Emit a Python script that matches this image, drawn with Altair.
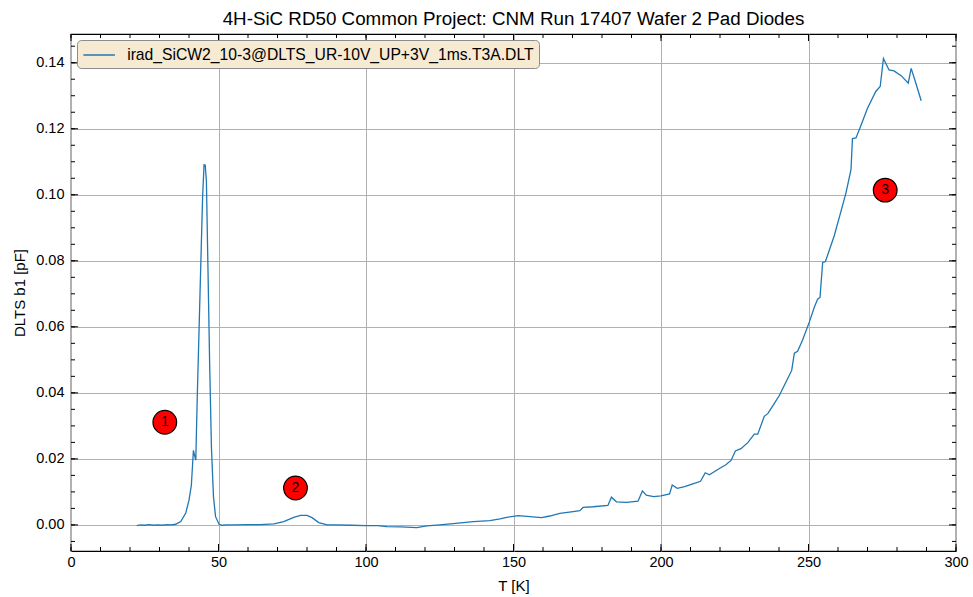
import altair as alt
import pandas as pd

# ---- data ----
temps = [22.3, 23.5, 25, 26.5, 28, 29.5, 31, 32.5, 34, 35.5, 37.2, 38.9, 40.0, 40.8, 41.5, 41.9, 42.3,
         42.8, 43.4, 44.0, 44.6, 45.1, 45.5, 45.9, 46.4, 47.0, 47.6, 48.3, 49.0, 50.2, 51.3, 53, 56, 60,
         64, 68.8, 72.1, 75.5, 77.8, 80, 81.7, 84, 86.8, 90, 95, 100, 104, 107.1, 112, 117.2, 120.6, 125,
         129.6, 133, 136.4, 142, 145.4, 147.7, 151.6, 155.6, 159.5, 162.3, 165.7, 170.2, 172.5, 173.6, 177,
         182, 183.2, 184.9, 188.3, 192.2, 193.7, 195.0, 197.5, 200, 202.9, 203.8, 205.5, 208, 210.8, 213.4,
         215, 216.4, 219.8, 222, 223.8, 225.2, 227.1, 229.5, 231.6, 232.8, 235, 236.2, 238, 240.1, 242.2,
         244.3, 245.2, 246.3, 248, 250.3, 252, 253.1, 253.9, 254.8, 255.7, 258.7, 260.7, 262.7, 264.4,
         264.9, 266.1, 268, 270, 272.8, 274.3, 275.4, 277.3, 279, 281.5, 283.8, 284.8, 286.5, 288.2]
dlts_b1 = [-0.0002, 0.0, -0.0001, 0.0001, -0.0001, 0.0, -0.0001, 0.0001, 0.0, 0.0002, 0.001, 0.0036, 0.0075,
           0.012, 0.0226, 0.021, 0.0196, 0.0387, 0.0588, 0.079, 0.099, 0.1091, 0.109, 0.104, 0.079, 0.0489,
           0.0236, 0.0085, 0.0025, 0.0002, -0.0001, 0.0, 0.0, 0.0001, 0.0001, 0.0003, 0.001, 0.0023, 0.0029,
           0.0029, 0.0022, 0.0007, 0.0, 0.0, -0.0001, -0.0002, -0.0002, -0.0005, -0.0006, -0.0008, -0.0003,
           0.0, 0.0004, 0.0007, 0.001, 0.0013, 0.0018, 0.0023, 0.0028, 0.0025, 0.0022, 0.0027, 0.0035, 0.004,
           0.0043, 0.0053, 0.0055, 0.0059, 0.0084, 0.007, 0.0068, 0.0072, 0.0103, 0.009, 0.0086, 0.0088,
           0.0094, 0.0121, 0.0111, 0.0116, 0.0124, 0.0132, 0.0158, 0.0152, 0.0171, 0.0182, 0.0196, 0.0224,
           0.0231, 0.025, 0.0275, 0.0275, 0.0329, 0.0337, 0.0362, 0.0392, 0.043, 0.0468, 0.052, 0.0526,
           0.056, 0.0615, 0.066, 0.0684, 0.0689, 0.0795, 0.0797, 0.0875, 0.094, 0.1006, 0.1076, 0.117,
           0.1172, 0.1215, 0.1262, 0.1313, 0.1328, 0.1413, 0.1378, 0.1375, 0.136, 0.1338, 0.1383, 0.1335,
           0.1285]
series_name = "irad_SiCW2_10-3@DLTS_UR-10V_UP+3V_1ms.T3A.DLT"

marker_T = [31.8, 76.1, 276.0]
marker_v = [0.0311, 0.0112, 0.1014]
marker_labels = ["1", "2", "3"]

x_major = [0, 50, 100, 150, 200, 250, 300]
x_minor = [v for v in range(0, 301, 10)]
y_major = [0.0, 0.02, 0.04, 0.06, 0.08, 0.10, 0.12, 0.14]
y_minor = [round(-0.005 + 0.005 * i, 3) for i in range(31)]

title_text = "4H-SiC RD50 Common Project: CNM Run 17407 Wafer 2 Pad Diodes"

# ---- layout ----
W, H = 885, 517
FONT = "Liberation Sans"
XDOM = [0, 300]
YDOM = [-0.0079, 0.1487]

curve = pd.DataFrame({"T": temps, "v": dlts_b1, "series": series_name})
marks = pd.DataFrame({"T": marker_T, "v": marker_v, "lab": marker_labels})
xmaj = pd.DataFrame({"t": x_major})
xmin = pd.DataFrame({"t": x_minor})
ymaj = pd.DataFrame({"t": y_major})
ymin = pd.DataFrame({"t": y_minor})

xs = alt.Scale(domain=XDOM, nice=False, zero=False)
ys = alt.Scale(domain=YDOM, nice=False, zero=False)

line = alt.Chart(curve).mark_line(strokeWidth=1.3, clip=True).encode(
    x=alt.X("T:Q", scale=xs,
            axis=alt.Axis(values=x_major, title="T [K]", grid=True, ticks=False, domain=False,
                          labelPadding=4, labelFlush=False, format="d", titlePadding=10)),
    y=alt.Y("v:Q", scale=ys,
            axis=alt.Axis(values=y_major, title="DLTS b1 [pF]", grid=True, ticks=False, domain=False,
                          labelPadding=7, labelFlush=False, format=".2f", titlePadding=8)),
    color=alt.Color("series:N", scale=alt.Scale(domain=[series_name], range=["#1f77b4"]),
                    legend=alt.Legend(title=None, orient="top-left", offset=6, padding=5,
                                      fillColor="#f6ead2", strokeColor="#8c8c8c", cornerRadius=4,
                                      labelFontSize=15.7, labelFont=FONT, labelColor="#000000",
                                      symbolType="M-1.75,0H1.75", symbolSize=324, symbolStrokeWidth=1.5,
                                      symbolOffset=7.15, labelOffset=18, labelLimit=700)),
)

def tick_layer(df, orient, length, axis):
    base = alt.Chart(df).mark_rule(color="#000000", strokeWidth=1)
    if axis == "x":
        if orient == "bottom":
            return base.encode(x=alt.X("t:Q", scale=xs), y=alt.value(H), y2=alt.value(H - length))
        return base.encode(x=alt.X("t:Q", scale=xs), y=alt.value(0), y2=alt.value(length))
    if orient == "left":
        return base.encode(y=alt.Y("t:Q", scale=ys), x=alt.value(0), x2=alt.value(length))
    return base.encode(y=alt.Y("t:Q", scale=ys), x=alt.value(W), x2=alt.value(W - length))

ticks = [
    tick_layer(xmin, "bottom", 4, "x"), tick_layer(xmin, "top", 4, "x"),
    tick_layer(xmaj, "bottom", 7, "x"), tick_layer(xmaj, "top", 7, "x"),
    tick_layer(ymin, "left", 4, "y"), tick_layer(ymin, "right", 4, "y"),
    tick_layer(ymaj, "left", 7, "y"), tick_layer(ymaj, "right", 7, "y"),
]

dots = alt.Chart(marks).mark_point(filled=True, shape="circle", size=560, fill="#ff0000",
                                   stroke="#000000", strokeWidth=1.2, opacity=1).encode(
    x=alt.X("T:Q", scale=xs), y=alt.Y("v:Q", scale=ys))
labels = alt.Chart(marks).mark_text(font=FONT, fontSize=14, color="#000000", baseline="middle",
                                    align="center").encode(
    x=alt.X("T:Q", scale=xs), y=alt.Y("v:Q", scale=ys), text="lab:N")

chart = alt.layer(line, *ticks, dots, labels).properties(
    width=W, height=H,
    title=alt.TitleParams(title_text, font=FONT, fontSize=18.8, fontWeight="normal", anchor="middle",
                          offset=5, color="#000000"),
    autosize=alt.AutoSizeParams(type="none"),
    padding={"left": 71, "top": 34, "right": 17, "bottom": 46},
).configure_view(stroke="#000000", strokeWidth=1.2).configure_axis(
    labelFont=FONT, titleFont=FONT, labelFontSize=14.5, titleFontSize=15, labelColor="#000000",
    titleColor="#000000", titleFontWeight="normal", gridColor="#b0b0b0", gridWidth=1, gridOpacity=1,
)

chart.save("out.html", embed_options={"renderer": "svg", "actions": False})
